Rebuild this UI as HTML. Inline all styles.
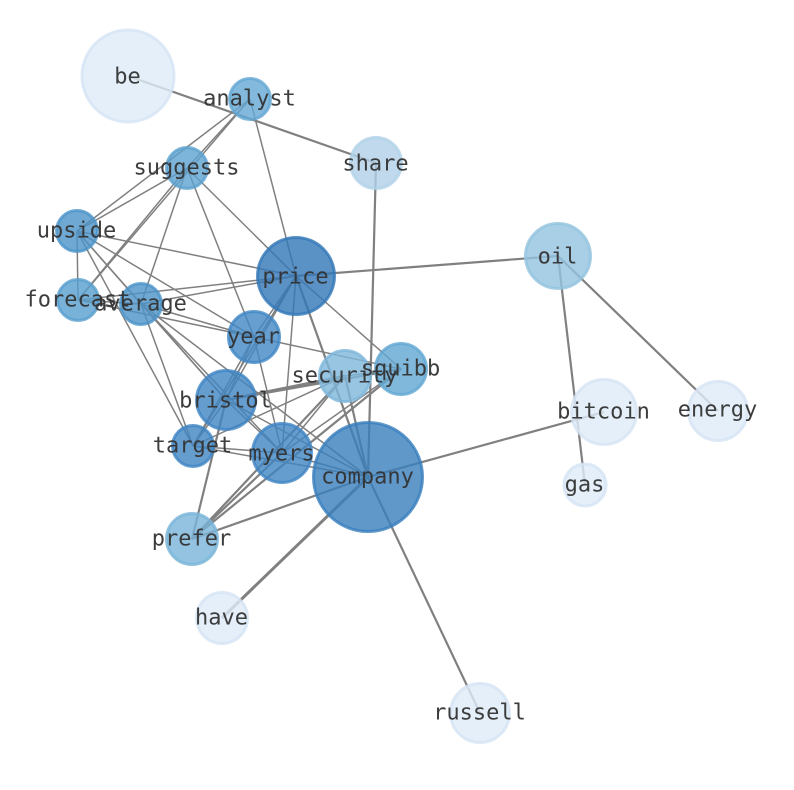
<!DOCTYPE html>
<html>
<head>
<meta charset="utf-8">
<style>
html,body{margin:0;padding:0;background:#fff;width:794px;height:790px;overflow:hidden}
svg{display:block}
.e line{stroke:#808080;stroke-width:1.5}
.t line{stroke-width:2.2}
.n circle{stroke-width:3;fill-opacity:.8;stroke-opacity:.8}
text{font-family:"DejaVu Sans Mono","Liberation Mono",monospace;font-size:22px;fill:#333;fill-opacity:.95;text-anchor:middle}
</style>
</head>
<body>
<svg width="794" height="790" viewBox="0 0 794 790" xmlns="http://www.w3.org/2000/svg">
<g class="e">
<line x1="250" y1="99" x2="187" y2="168"/>
<line x1="250" y1="99" x2="77" y2="231"/>
<line x1="250" y1="99" x2="296" y2="276"/>
<line x1="250" y1="99" x2="78" y2="300"/>
<line x1="187" y1="168" x2="77" y2="231"/>
<line x1="187" y1="168" x2="78" y2="300"/>
<line x1="187" y1="168" x2="141" y2="304"/>
<line x1="187" y1="168" x2="254" y2="337"/>
<line x1="187" y1="168" x2="296" y2="276"/>
<line x1="77" y1="231" x2="78" y2="300"/>
<line x1="77" y1="231" x2="141" y2="304"/>
<line x1="77" y1="231" x2="296" y2="276"/>
<line x1="77" y1="231" x2="254" y2="337"/>
<line x1="77" y1="231" x2="226" y2="400"/>
<line x1="77" y1="231" x2="193" y2="446"/>
<line x1="78" y1="300" x2="141" y2="304"/>
<line x1="78" y1="300" x2="296" y2="276"/>
<line x1="78" y1="300" x2="254" y2="337"/>
<line x1="141" y1="304" x2="296" y2="276"/>
<line x1="141" y1="304" x2="254" y2="337"/>
<line x1="141" y1="304" x2="226" y2="400"/>
<line x1="141" y1="304" x2="282" y2="453"/>
<line x1="141" y1="304" x2="193" y2="446"/>
<line x1="141" y1="304" x2="368" y2="477"/>
<line x1="296" y1="276" x2="254" y2="337"/>
<line x1="296" y1="276" x2="226" y2="400"/>
<line x1="296" y1="276" x2="282" y2="453"/>
<line x1="296" y1="276" x2="193" y2="446"/>
<line x1="296" y1="276" x2="401" y2="369"/>
<line x1="254" y1="337" x2="226" y2="400"/>
<line x1="254" y1="337" x2="282" y2="453"/>
<line x1="254" y1="337" x2="401" y2="369"/>
<line x1="254" y1="337" x2="193" y2="446"/>
<line x1="345" y1="376" x2="193" y2="446"/>
<line x1="345" y1="376" x2="282" y2="453"/>
<line x1="401" y1="369" x2="282" y2="453"/>
<line x1="401" y1="369" x2="345" y2="376"/>
<line x1="226" y1="400" x2="193" y2="446"/>
<line x1="226" y1="400" x2="282" y2="453"/>
<line x1="226" y1="400" x2="368" y2="477"/>
<line x1="193" y1="446" x2="282" y2="453"/>
<line x1="193" y1="446" x2="368" y2="477"/>
<line x1="282" y1="453" x2="368" y2="477"/>
</g>
<g class="e t">
<line x1="128" y1="76" x2="376" y2="163"/>
<line x1="376" y1="163" x2="368" y2="477"/>
<line x1="296" y1="276" x2="558" y2="256"/>
<line x1="558" y1="256" x2="585" y2="485"/>
<line x1="558" y1="256" x2="718" y2="411"/>
<line x1="604" y1="412" x2="368" y2="477"/>
<line x1="368" y1="477" x2="480" y2="713"/>
<line x1="368" y1="477" x2="222" y2="618" style="stroke-width:3"/>
<line x1="368" y1="477" x2="192" y2="539"/>
<line x1="296" y1="276" x2="368" y2="477"/>
<line x1="345" y1="376" x2="368" y2="477"/>
<line x1="226" y1="400" x2="345" y2="376" style="stroke-width:2.8"/>
<line x1="226" y1="400" x2="401" y2="369"/>
<line x1="345" y1="376" x2="192" y2="539"/>
<line x1="401" y1="369" x2="192" y2="539"/>
<line x1="282" y1="453" x2="192" y2="539"/>
<line x1="226" y1="400" x2="192" y2="539"/>
</g>
<g class="n">
<circle cx="128" cy="76" r="46" fill="#deebf7" stroke="#d4e4f4"/>
<circle cx="376" cy="163" r="25.5" fill="#b0cfe7" stroke="#b0d2e8"/>
<circle cx="250" cy="99" r="20.5" fill="#63a8d3" stroke="#63a8d3"/>
<circle cx="187" cy="168" r="20.5" fill="#5ca1cf" stroke="#5ca1cf"/>
<circle cx="77" cy="231" r="20.5" fill="#4b93c8" stroke="#4b93c8"/>
<circle cx="78" cy="300" r="20.5" fill="#579fce" stroke="#579fce"/>
<circle cx="141" cy="304" r="20.5" fill="#4b93c8" stroke="#4b93c8"/>
<circle cx="296" cy="276" r="38.5" fill="#3277b6" stroke="#3277b6"/>
<circle cx="558" cy="256" r="32.5" fill="#92c3df" stroke="#92c3df"/>
<circle cx="254" cy="337" r="25.5" fill="#4087c4" stroke="#4087c4"/>
<circle cx="345" cy="376" r="25.5" fill="#7db6db" stroke="#7db6db"/>
<circle cx="401" cy="369" r="25.5" fill="#60a6d2" stroke="#60a6d2"/>
<circle cx="226" cy="400" r="29.5" fill="#3f85c3" stroke="#3f85c3"/>
<circle cx="193" cy="446" r="20.5" fill="#3f85c3" stroke="#3f85c3"/>
<circle cx="282" cy="453" r="29.5" fill="#3f85c3" stroke="#3f85c3"/>
<circle cx="368" cy="477" r="54.5" fill="#387ebd" stroke="#387ebd"/>
<circle cx="604" cy="412" r="32.5" fill="#deebf7" stroke="#d4e4f4"/>
<circle cx="718" cy="411" r="29.5" fill="#deebf7" stroke="#d4e4f4"/>
<circle cx="585" cy="485" r="21" fill="#deebf7" stroke="#d4e4f4"/>
<circle cx="192" cy="539" r="25.5" fill="#78b4d8" stroke="#78b4d8"/>
<circle cx="222" cy="618" r="25.5" fill="#deebf7" stroke="#d4e4f4"/>
<circle cx="480" cy="713" r="29.5" fill="#deebf7" stroke="#d4e4f4"/>
</g>
<g transform="translate(-0.5,0.7)">
<text x="128" y="83">be</text>
<text x="250" y="105">analyst</text>
<text x="187" y="174">suggests</text>
<text x="376" y="170">share</text>
<text x="77" y="237">upside</text>
<text x="78" y="306">forecast</text>
<text x="141" y="310">average</text>
<text x="296" y="283">price</text>
<text x="558" y="263">oil</text>
<text x="254" y="343">year</text>
<text x="345" y="382">security</text>
<text x="401" y="375">squibb</text>
<text x="226" y="407">bristol</text>
<text x="193" y="452">target</text>
<text x="282" y="460">myers</text>
<text x="368" y="483">company</text>
<text x="604" y="418">bitcoin</text>
<text x="718" y="416">energy</text>
<text x="585" y="491">gas</text>
<text x="192" y="545">prefer</text>
<text x="222" y="624">have</text>
<text x="480" y="719">russell</text>
</g>
</svg>
</body>
</html>
